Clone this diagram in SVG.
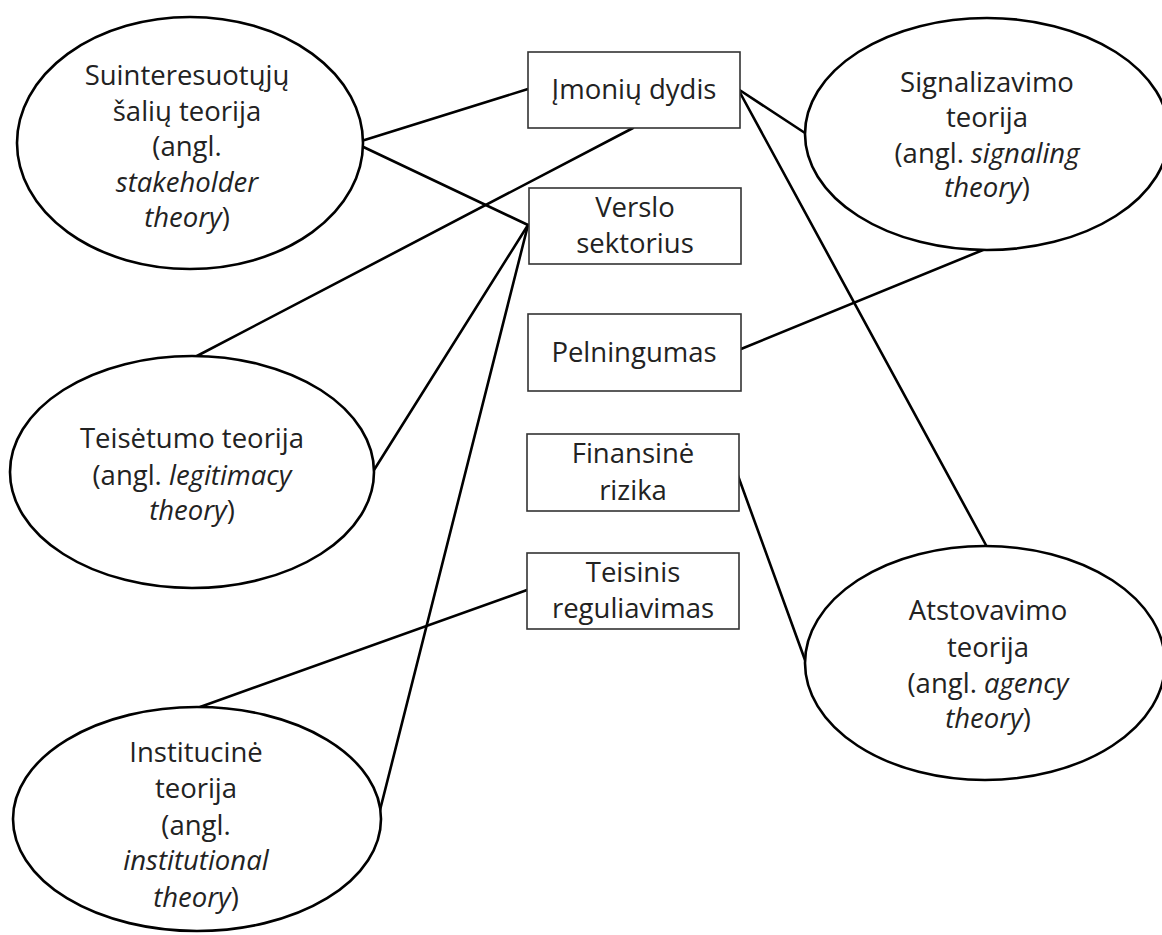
<svg xmlns="http://www.w3.org/2000/svg" width="1162" height="935" viewBox="0 0 1162 935">
<style>
.bg{fill:#fff}
.ell{fill:#fff;stroke:#000;stroke-width:2.6}
.box{fill:#fff;stroke:#333;stroke-width:1.6}
.con{stroke:#000;stroke-width:2.6;fill:none;stroke-linecap:round}
text{font-family:"Open Sans","Liberation Sans",sans-serif;font-size:27.5px;fill:#222;text-anchor:middle}
.i{font-style:italic}
</style>
<rect class="bg" x="0" y="0" width="1162" height="935"/>
<g id="connectors">
<line class="con" x1="355" y1="143" x2="528" y2="89"/>
<line class="con" x1="355" y1="143" x2="528" y2="225"/>
<line class="con" x1="633" y1="128" x2="195" y2="357"/>
<line class="con" x1="738" y1="89" x2="805" y2="133"/>
<line class="con" x1="738" y1="89" x2="987" y2="547"/>
<line class="con" x1="528" y1="225" x2="374" y2="470"/>
<line class="con" x1="528" y1="225" x2="378" y2="818"/>
<line class="con" x1="983" y1="250" x2="741" y2="349"/>
<line class="con" x1="737" y1="473" x2="805" y2="660"/>
<line class="con" x1="527" y1="590" x2="200" y2="707"/>
</g>
<g id="n-suinteresuotuju">
<ellipse class="ell" cx="190" cy="143" rx="173" ry="126"/>
<text x="187" y="85">Suinteresuotųjų</text>
<text x="187" y="121">šalių teorija</text>
<text x="187" y="156">(angl.</text>
<text x="187" y="192" class="i">stakeholder</text>
<text x="187" y="227"><tspan class="i">theory</tspan>)</text>
</g>
<g id="n-signalizavimo">
<ellipse class="ell" cx="987" cy="134" rx="182" ry="116"/>
<text x="987" y="92">Signalizavimo</text>
<text x="987" y="127">teorija</text>
<text x="987" y="163">(angl. <tspan class="i">signaling</tspan></text>
<text x="987" y="197"><tspan class="i">theory</tspan>)</text>
</g>
<g id="n-teisetumo">
<ellipse class="ell" cx="192" cy="472" rx="182" ry="116"/>
<text x="192" y="448">Teisėtumo teorija</text>
<text x="192" y="485">(angl. <tspan class="i">legitimacy</tspan></text>
<text x="192" y="520"><tspan class="i">theory</tspan>)</text>
</g>
<g id="n-atstovavimo">
<ellipse class="ell" cx="985" cy="663" rx="180" ry="117"/>
<text x="988" y="620">Atstovavimo</text>
<text x="988" y="657">teorija</text>
<text x="988" y="693">(angl. <tspan class="i">agency</tspan></text>
<text x="988" y="728"><tspan class="i">theory</tspan>)</text>
</g>
<g id="n-institucine">
<ellipse class="ell" cx="197" cy="819" rx="184" ry="112"/>
<text x="196" y="762">Institucinė</text>
<text x="196" y="798">teorija</text>
<text x="196" y="835">(angl.</text>
<text x="196" y="870" class="i">institutional</text>
<text x="196" y="907"><tspan class="i">theory</tspan>)</text>
</g>
<g id="n-imoniu-dydis">
<rect class="box" x="528" y="52" width="212" height="76"/>
<text x="634" y="99">Įmonių dydis</text>
</g>
<g id="n-verslo-sektorius">
<rect class="box" x="529" y="188" width="212" height="76"/>
<text x="635" y="217">Verslo</text>
<text x="635" y="253">sektorius</text>
</g>
<g id="n-pelningumas">
<rect class="box" x="528" y="314" width="213" height="77"/>
<text x="634" y="362">Pelningumas</text>
</g>
<g id="n-finansine-rizika">
<rect class="box" x="527" y="434" width="212" height="77"/>
<text x="633" y="463">Finansinė</text>
<text x="633" y="500">rizika</text>
</g>
<g id="n-teisinis-reguliavimas">
<rect class="box" x="527" y="553" width="212" height="76"/>
<text x="633" y="582">Teisinis</text>
<text x="633" y="618">reguliavimas</text>
</g>
</svg>
